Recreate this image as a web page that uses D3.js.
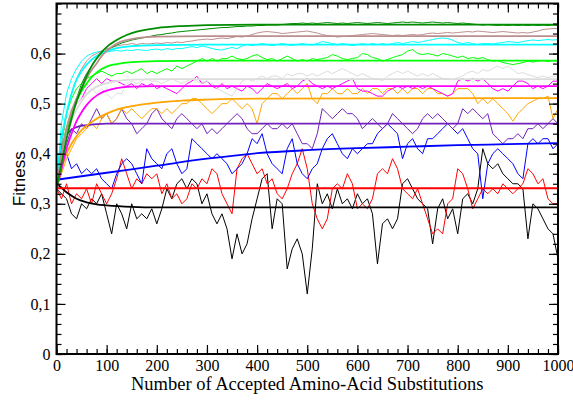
<!DOCTYPE html>
<html>
<head>
  <meta charset="UTF-8" />
  <title>Fitness vs accepted substitutions</title>
  <script src="https://d3js.org/d3.v7.min.js"></script>
  <style>
    body { margin: 0; background: #fff; }
    svg { display: block; }
  </style>
</head>
<body>
<svg width="573" height="401"></svg>
<script>
  // sampling grid of the noisy runs (every 10 substitutions)
  const steps = d3.range(0, 1001, 10);

  const runBlack = [0.33,0.32,0.31,0.28,0.27,0.30,0.29,0.31,0.30,0.32,0.28,0.24,0.30,0.28,0.25,0.30,0.27,0.28,0.27,0.29,0.26,0.29,0.33,0.31,0.34,0.35,0.33,0.35,0.34,0.30,0.32,0.28,0.26,0.28,0.25,0.19,0.24,0.20,0.22,0.27,0.31,0.35,0.36,0.25,0.31,0.30,0.17,0.21,0.23,0.20,0.12,0.21,0.34,0.30,0.32,0.29,0.33,0.30,0.31,0.29,0.32,0.30,0.31,0.28,0.18,0.26,0.27,0.25,0.27,0.34,0.35,0.33,0.31,0.30,0.29,0.22,0.29,0.31,0.27,0.29,0.24,0.31,0.32,0.30,0.33,0.41,0.38,0.37,0.38,0.36,0.35,0.34,0.34,0.33,0.23,0.30,0.29,0.27,0.25,0.24,0.19];
  const runRed = [0.33,0.31,0.34,0.30,0.32,0.31,0.33,0.30,0.34,0.32,0.30,0.32,0.35,0.39,0.36,0.33,0.35,0.34,0.36,0.35,0.36,0.32,0.34,0.31,0.32,0.30,0.31,0.34,0.33,0.35,0.34,0.37,0.36,0.32,0.30,0.28,0.37,0.39,0.40,0.38,0.36,0.37,0.34,0.35,0.32,0.31,0.33,0.36,0.38,0.41,0.37,0.30,0.27,0.25,0.27,0.33,0.34,0.33,0.36,0.34,0.29,0.30,0.29,0.31,0.36,0.37,0.36,0.39,0.37,0.33,0.32,0.31,0.33,0.30,0.27,0.24,0.25,0.24,0.30,0.31,0.37,0.36,0.33,0.29,0.31,0.33,0.32,0.33,0.32,0.34,0.33,0.32,0.33,0.34,0.37,0.36,0.34,0.35,0.31,0.30,0.30];
  const runBlue = [0.33,0.39,0.40,0.37,0.38,0.36,0.37,0.36,0.37,0.35,0.34,0.33,0.36,0.38,0.39,0.38,0.36,0.34,0.41,0.39,0.38,0.37,0.40,0.41,0.38,0.36,0.37,0.43,0.42,0.41,0.40,0.39,0.40,0.39,0.38,0.36,0.37,0.38,0.40,0.43,0.42,0.44,0.40,0.38,0.37,0.36,0.41,0.43,0.38,0.36,0.35,0.37,0.38,0.41,0.43,0.44,0.42,0.40,0.39,0.41,0.40,0.41,0.42,0.42,0.44,0.45,0.46,0.45,0.44,0.39,0.42,0.43,0.41,0.40,0.43,0.43,0.44,0.45,0.46,0.45,0.44,0.45,0.43,0.41,0.40,0.31,0.38,0.40,0.41,0.40,0.39,0.38,0.36,0.35,0.42,0.43,0.42,0.43,0.43,0.41,0.42];
  const runPurple = [0.33,0.38,0.42,0.45,0.44,0.46,0.45,0.47,0.49,0.47,0.48,0.46,0.47,0.49,0.47,0.46,0.44,0.45,0.46,0.48,0.49,0.47,0.46,0.45,0.47,0.48,0.47,0.46,0.45,0.46,0.44,0.45,0.44,0.45,0.46,0.47,0.48,0.47,0.45,0.44,0.44,0.45,0.46,0.45,0.45,0.46,0.45,0.46,0.44,0.42,0.42,0.41,0.44,0.49,0.48,0.47,0.48,0.49,0.48,0.48,0.47,0.45,0.46,0.47,0.46,0.45,0.46,0.48,0.47,0.46,0.45,0.44,0.45,0.47,0.48,0.47,0.48,0.47,0.46,0.45,0.46,0.49,0.48,0.49,0.48,0.47,0.48,0.44,0.43,0.42,0.43,0.43,0.44,0.43,0.45,0.45,0.46,0.45,0.46,0.47,0.46];
  const runOrange = [0.33,0.36,0.39,0.41,0.43,0.44,0.45,0.46,0.45,0.47,0.48,0.46,0.47,0.49,0.48,0.49,0.48,0.47,0.48,0.49,0.49,0.48,0.49,0.48,0.49,0.50,0.50,0.51,0.51,0.50,0.49,0.48,0.49,0.50,0.50,0.51,0.50,0.49,0.50,0.49,0.46,0.50,0.51,0.52,0.52,0.51,0.52,0.53,0.52,0.53,0.54,0.51,0.50,0.52,0.52,0.53,0.52,0.52,0.53,0.52,0.52,0.53,0.52,0.53,0.53,0.52,0.53,0.53,0.52,0.53,0.52,0.53,0.53,0.52,0.53,0.53,0.52,0.52,0.515,0.52,0.53,0.53,0.53,0.52,0.50,0.51,0.50,0.51,0.50,0.49,0.48,0.465,0.48,0.49,0.50,0.505,0.51,0.51,0.515,0.47,0.49];
  const runMagenta = [0.33,0.40,0.45,0.48,0.50,0.51,0.53,0.54,0.55,0.54,0.55,0.545,0.545,0.54,0.535,0.54,0.53,0.54,0.535,0.54,0.53,0.535,0.53,0.525,0.52,0.53,0.54,0.545,0.555,0.54,0.545,0.535,0.53,0.54,0.53,0.535,0.53,0.525,0.535,0.53,0.52,0.53,0.54,0.535,0.53,0.535,0.54,0.53,0.535,0.545,0.55,0.54,0.535,0.53,0.535,0.53,0.535,0.54,0.545,0.55,0.53,0.525,0.525,0.52,0.515,0.515,0.525,0.53,0.535,0.53,0.535,0.53,0.535,0.53,0.535,0.53,0.525,0.52,0.515,0.52,0.545,0.55,0.545,0.55,0.545,0.55,0.54,0.53,0.525,0.53,0.525,0.535,0.545,0.545,0.54,0.53,0.535,0.53,0.535,0.545,0.545];
  const runGrey = [0.33,0.42,0.47,0.49,0.50,0.51,0.52,0.53,0.52,0.53,0.52,0.51,0.52,0.52,0.54,0.545,0.54,0.545,0.55,0.545,0.545,0.54,0.545,0.55,0.545,0.54,0.545,0.55,0.545,0.54,0.545,0.54,0.53,0.525,0.52,0.515,0.53,0.545,0.55,0.545,0.55,0.555,0.55,0.555,0.555,0.55,0.56,0.555,0.56,0.56,0.555,0.56,0.555,0.56,0.565,0.56,0.565,0.57,0.565,0.56,0.555,0.56,0.555,0.55,0.55,0.545,0.555,0.56,0.565,0.56,0.565,0.56,0.555,0.56,0.555,0.56,0.555,0.55,0.55,0.548,0.552,0.555,0.562,0.565,0.56,0.568,0.565,0.57,0.575,0.57,0.575,0.568,0.56,0.562,0.558,0.555,0.552,0.555,0.552,0.555,0.555];
  const runGreen = [0.33,0.42,0.48,0.51,0.53,0.54,0.55,0.555,0.56,0.565,0.56,0.555,0.56,0.56,0.565,0.56,0.565,0.57,0.56,0.565,0.56,0.565,0.57,0.565,0.575,0.57,0.575,0.58,0.585,0.59,0.585,0.59,0.585,0.59,0.59,0.595,0.59,0.588,0.59,0.595,0.598,0.592,0.588,0.59,0.585,0.59,0.595,0.59,0.585,0.588,0.585,0.59,0.588,0.59,0.592,0.598,0.595,0.59,0.588,0.59,0.592,0.60,0.598,0.592,0.59,0.585,0.588,0.592,0.595,0.598,0.605,0.608,0.60,0.598,0.60,0.598,0.595,0.60,0.598,0.595,0.592,0.595,0.59,0.592,0.59,0.592,0.588,0.585,0.586,0.582,0.58,0.578,0.58,0.582,0.585,0.583,0.585,0.586,0.584,0.586,0.585];
  const runCyan = [0.33,0.46,0.52,0.55,0.57,0.585,0.595,0.60,0.603,0.605,0.603,0.605,0.606,0.605,0.607,0.606,0.608,0.607,0.606,0.608,0.609,0.607,0.61,0.608,0.61,0.61,0.612,0.614,0.612,0.615,0.613,0.61,0.608,0.607,0.61,0.612,0.61,0.615,0.618,0.616,0.618,0.62,0.618,0.616,0.618,0.62,0.618,0.616,0.618,0.62,0.618,0.617,0.62,0.624,0.622,0.62,0.618,0.62,0.618,0.616,0.618,0.62,0.618,0.62,0.618,0.62,0.618,0.62,0.622,0.62,0.622,0.624,0.622,0.624,0.626,0.628,0.63,0.631,0.63,0.627,0.622,0.62,0.622,0.62,0.618,0.62,0.62,0.619,0.621,0.622,0.624,0.623,0.622,0.624,0.626,0.627,0.626,0.627,0.628,0.627,0.628];
  const runBrown = [0.33,0.42,0.48,0.52,0.55,0.57,0.585,0.595,0.60,0.605,0.61,0.612,0.615,0.617,0.618,0.62,0.618,0.62,0.619,0.62,0.621,0.62,0.622,0.621,0.623,0.622,0.624,0.625,0.627,0.628,0.629,0.628,0.63,0.631,0.63,0.632,0.634,0.633,0.635,0.638,0.641,0.643,0.644,0.643,0.642,0.64,0.641,0.642,0.643,0.644,0.645,0.643,0.641,0.638,0.636,0.635,0.633,0.634,0.635,0.636,0.637,0.638,0.639,0.64,0.639,0.638,0.637,0.636,0.637,0.636,0.637,0.638,0.637,0.638,0.64,0.641,0.64,0.641,0.642,0.641,0.642,0.643,0.644,0.643,0.645,0.644,0.643,0.642,0.643,0.644,0.643,0.642,0.641,0.642,0.641,0.643,0.645,0.648,0.649,0.65,0.65];
  const runDarkGreen = [0.33,0.39,0.44,0.48,0.51,0.54,0.56,0.575,0.59,0.60,0.607,0.612,0.617,0.621,0.624,0.627,0.629,0.631,0.633,0.635,0.637,0.638,0.64,0.641,0.643,0.644,0.645,0.646,0.647,0.648,0.649,0.65,0.651,0.652,0.652,0.653,0.654,0.654,0.655,0.655,0.656,0.656,0.657,0.657,0.657,0.658,0.659,0.66,0.66,0.661,0.66,0.661,0.66,0.661,0.662,0.661,0.66,0.661,0.66,0.661,0.662,0.661,0.66,0.661,0.662,0.661,0.66,0.661,0.662,0.663,0.662,0.663,0.662,0.661,0.662,0.663,0.662,0.661,0.662,0.661,0.66,0.661,0.66,0.659,0.658,0.657,0.658,0.657,0.656,0.657,0.656,0.657,0.656,0.657,0.656,0.657,0.656,0.657,0.656,0.657,0.656];

  // fitted curves, [substitutions, fitness]
  const fitBlack = [[0,0.34],[10,0.332],[20,0.323],[30,0.316],[40,0.31],[60,0.303],[80,0.299],[100,0.297],[150,0.294],[200,0.293],[1000,0.293]];
  const fitRed = [[0,0.331],[1000,0.331]];
  const fitBlue = [[0,0.348],[100,0.362],[200,0.376],[300,0.39],[400,0.401],[500,0.407],[600,0.411],[700,0.414],[800,0.417],[900,0.419],[1000,0.421]];
  const fitPurple = [[0,0.33],[5,0.38],[10,0.41],[20,0.437],[30,0.448],[40,0.453],[60,0.457],[80,0.459],[100,0.46],[1000,0.46]];
  const fitOrange = [[0,0.33],[10,0.37],[20,0.40],[30,0.42],[40,0.435],[50,0.447],[60,0.456],[80,0.47],[100,0.48],[120,0.488],[150,0.495],[200,0.502],[250,0.506],[300,0.508],[400,0.51],[1000,0.511]];
  const fitMagenta = [[0,0.33],[10,0.37],[20,0.41],[30,0.44],[40,0.465],[50,0.483],[60,0.497],[70,0.508],[80,0.516],[90,0.522],[100,0.526],[120,0.531],[150,0.534],[200,0.535],[1000,0.535]];
  const fitGrey = [[0,0.33],[10,0.39],[20,0.435],[30,0.465],[40,0.488],[50,0.505],[60,0.518],[70,0.527],[80,0.534],[100,0.541],[120,0.545],[150,0.548],[200,0.549],[1000,0.549]];
  const fitGreen = [[0,0.33],[10,0.40],[20,0.45],[30,0.48],[40,0.505],[50,0.525],[60,0.54],[70,0.553],[80,0.562],[90,0.569],[100,0.574],[120,0.579],[150,0.583],[200,0.585],[300,0.586],[1000,0.586]];
  const fitCyan = [[0,0.33],[5,0.39],[10,0.43],[20,0.48],[30,0.52],[40,0.548],[50,0.565],[60,0.578],[70,0.588],[80,0.595],[100,0.605],[120,0.611],[150,0.615],[200,0.617],[300,0.618],[1000,0.618]];
  const fitBrown = [[0,0.33],[10,0.40],[20,0.45],[30,0.485],[40,0.51],[50,0.53],[60,0.55],[70,0.567],[80,0.58],[90,0.595],[100,0.605],[120,0.62],[140,0.627],[160,0.631],[200,0.634],[300,0.635],[1000,0.635]];
  const fitDarkGreen = [[0,0.33],[10,0.38],[20,0.43],[30,0.47],[40,0.505],[50,0.53],[60,0.555],[70,0.575],[80,0.59],[90,0.603],[100,0.613],[120,0.627],[140,0.637],[160,0.644],[180,0.648],[200,0.651],[250,0.655],[300,0.657],[400,0.658],[1000,0.658]];

  const xTicks = [0, 100, 200, 300, 400, 500, 600, 700, 800, 900, 1000];
  const yTicks = [0, 0.1, 0.2, 0.3, 0.4, 0.5, 0.6];

  const series = [
    { run: runBlack, fit: fitBlack, color: "#000000" },
    { run: runRed, fit: fitRed, color: "#ff0000" },
    { run: runBlue, fit: fitBlue, color: "#0000ff" },
    { run: runPurple, fit: fitPurple, color: "#7221bc" },
    { run: runOrange, fit: fitOrange, color: "#ffa500" },
    { run: runMagenta, fit: fitMagenta, color: "#ff00ff" },
    { run: runGrey, fit: fitGrey, color: "#dcdcdc" },
    { run: runGreen, fit: fitGreen, color: "#00ff00" },
    { run: runCyan, fit: fitCyan, color: "#00ffff" },
    { run: runBrown, fit: fitBrown, color: "#bc8f8f" },
    { run: runDarkGreen, fit: fitDarkGreen, color: "#008b00" }
  ];

  const svg = d3.select("svg");
  const frame = { left: 56.5, right: 558, top: 3.5, bottom: 354 };

  const x = d3.scaleLinear().domain([0, 1000]).range([frame.left, frame.right]);
  const y = d3.scaleLinear().domain([0, 0.7]).range([frame.bottom, frame.top]);

  svg.append("clipPath").attr("id", "plot")
    .append("rect").attr("x", frame.left).attr("y", frame.top)
    .attr("width", frame.right - frame.left).attr("height", frame.bottom - frame.top);

  const plot = svg.append("g").attr("clip-path", "url(#plot)");

  const runLine = d3.line().x((d, i) => x(steps[i])).y(d => y(d));
  const fitLine = d3.line().x(d => x(d[0])).y(d => y(d[1])).curve(d3.curveMonotoneX);

  series.forEach(s => {
    plot.append("path").datum(s.run)
      .attr("fill", "none").attr("stroke", s.color)
      .attr("stroke-width", 1).attr("stroke-linejoin", "round")
      .attr("d", runLine);
  });
  series.forEach(s => {
    plot.append("path").datum(s.fit)
      .attr("fill", "none").attr("stroke", s.color)
      .attr("stroke-width", 1.8)
      .attr("d", fitLine);
  });

  // axes: ticks point inwards, minor every 20 / 0.02
  const xMinor = d3.range(0, 1001, 20);
  const yMinor = d3.range(0, 0.701, 0.02);
  const fmtY = d => d === 0 ? "0" : d3.format(".1f")(d).replace(".", ",");

  function addAxis(axis, tf) {
    const g = svg.append("g").attr("transform", tf).call(axis);
    g.attr("font-family", "Liberation Serif").attr("font-size", 16);
    g.select(".domain").remove();
    g.selectAll(".tick line").attr("stroke", "#000").attr("stroke-width", 1.2);
    g.selectAll(".tick text").attr("fill", "#000");
    return g;
  }

  addAxis(d3.axisBottom(x).tickValues(xMinor).tickSize(-5).tickFormat(""), `translate(0,${frame.bottom})`);
  addAxis(d3.axisBottom(x).tickValues(xTicks).tickSize(-9).tickPadding(6).tickFormat(d3.format("d")), `translate(0,${frame.bottom})`);
  addAxis(d3.axisTop(x).tickValues(xMinor).tickSize(-5).tickFormat(""), `translate(0,${frame.top})`);
  addAxis(d3.axisTop(x).tickValues(xTicks).tickSize(-9).tickFormat(""), `translate(0,${frame.top})`);

  addAxis(d3.axisLeft(y).tickValues(yMinor).tickSize(-5).tickFormat(""), `translate(${frame.left},0)`);
  addAxis(d3.axisLeft(y).tickValues(yTicks).tickSize(-9).tickPadding(6).tickFormat(fmtY), `translate(${frame.left},0)`);
  addAxis(d3.axisRight(y).tickValues(yMinor).tickSize(-5).tickFormat(""), `translate(${frame.right},0)`);
  addAxis(d3.axisRight(y).tickValues(yTicks).tickSize(-9).tickFormat(""), `translate(${frame.right},0)`);

  svg.append("rect")
    .attr("x", frame.left).attr("y", frame.top)
    .attr("width", frame.right - frame.left).attr("height", frame.bottom - frame.top)
    .attr("fill", "none").attr("stroke", "#000").attr("stroke-width", 2);

  svg.append("text")
    .attr("x", (frame.left + frame.right) / 2)
    .attr("y", 390)
    .attr("text-anchor", "middle")
    .attr("font-family", "Liberation Serif").attr("font-size", 18.5)
    .text("Number of Accepted Amino-Acid Substitutions");

  svg.append("text")
    .attr("transform", `translate(25,${(frame.top + frame.bottom) / 2}) rotate(-90)`)
    .attr("text-anchor", "middle")
    .attr("font-family", "Liberation Sans").attr("font-size", 17)
    .text("Fitness");
</script>
</body>
</html>
